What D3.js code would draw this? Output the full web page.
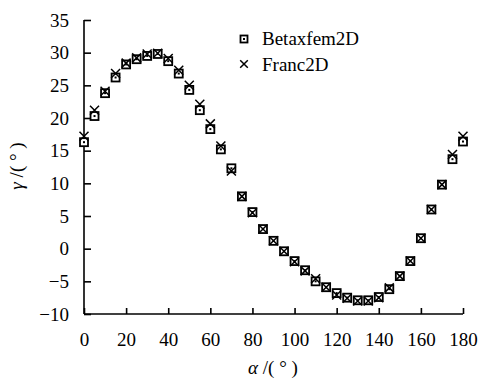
<!DOCTYPE html>
<html><head><meta charset="utf-8">
<script src="https://cdn.jsdelivr.net/npm/d3@7"></script>
<style>body{margin:0;background:#fff}svg{display:block}</style>
</head><body><div id="chart"></div>
<script>
const alphas = [0,5,10,15,20,25,30,35,40,45,50,55,60,65,70,75,80,85,90,95,100,105,110,115,120,125,130,135,140,145,150,155,160,165,170,175,180];
const betaxfem = [16.3,20.3,23.8,26.2,28.2,29.0,29.5,29.8,28.7,26.8,24.3,21.2,18.3,15.2,12.3,8.0,5.6,3.0,1.2,-0.4,-1.9,-3.3,-5.0,-5.9,-6.8,-7.5,-7.9,-7.9,-7.4,-6.2,-4.2,-1.9,1.6,6.0,9.8,13.7,16.4];
const franc2d = [17.2,21.2,24.1,26.8,28.4,29.2,29.8,29.9,29.1,27.3,25.0,22.1,19.1,15.7,11.9,8.0,5.5,3.0,1.2,-0.4,-2.0,-3.4,-4.6,-5.9,-7.1,-7.6,-8.0,-8.0,-7.5,-6.0,-4.2,-1.9,1.6,6.0,9.8,14.4,17.2];
const xTicks = [0,20,40,60,80,100,120,140,160,180];
const yTicks = [-10,-5,0,5,10,15,20,25,30,35];
const seriesNames = ["Betaxfem2D","Franc2D"];

const FONT = "Liberation Serif";
const FS = 19;
const W=479,H=380;
const svg=d3.select("#chart").append("svg").attr("width",W).attr("height",H)
  .attr("font-family",FONT).attr("font-size",FS);
const x=d3.scaleLinear().domain([0,180]).range([84,463]);
const y=d3.scaleLinear().domain([-10,35]).range([314,20]);

const gx=svg.append("g").attr("transform","translate(0,314)")
  .call(d3.axisBottom(x).tickValues(xTicks).tickSizeInner(-6).tickSizeOuter(0).tickPadding(19));
const gy=svg.append("g").attr("transform","translate(84,0)")
  .call(d3.axisLeft(y).tickValues(yTicks).tickSizeInner(-7).tickSizeOuter(0).tickPadding(15));
[gx,gy].forEach(g=>{
  g.attr("font-family",FONT).attr("font-size",FS);
  g.selectAll("path,line").attr("stroke","#000").attr("stroke-width",1.6);
  g.selectAll("text").attr("fill","#000");
});
gx.select(".domain").attr("d","M84,0H463");
gy.select(".domain").attr("d","M0,20V314");

function drawSquare(g,cx,cy,s){
  g.append("rect").attr("x",cx-s/2).attr("y",cy-s/2).attr("width",s).attr("height",s)
    .attr("fill","#fff").attr("stroke","#000").attr("stroke-width",1.8);
  g.append("rect").attr("x",cx-1).attr("y",cy-1).attr("width",2).attr("height",2).attr("fill","#000");
}
function drawCross(g,cx,cy,r){
  g.append("path").attr("d",`M${cx-r},${cy-r}L${cx+r},${cy+r}M${cx-r},${cy+r}L${cx+r},${cy-r}`)
    .attr("stroke","#000").attr("stroke-width",1.5).attr("fill","none");
}
const sq=svg.append("g");
alphas.forEach((a,i)=>drawSquare(sq,x(a),y(betaxfem[i]),8));
const cr=svg.append("g");
alphas.forEach((a,i)=>drawCross(cr,x(a),y(franc2d[i]),4.5));

// legend
const lg=svg.append("g");
drawSquare(lg,244,39,7);
drawCross(lg,244,64,3.8);
lg.append("text").attr("x",262).attr("y",45).text(seriesNames[0]);
lg.append("text").attr("x",262).attr("y",71).text(seriesNames[1]);

// axis titles
svg.append("text").attr("x",273).attr("y",374).attr("text-anchor","middle")
  .html('<tspan font-style="italic">α</tspan> /( ° )');
svg.append("text").attr("transform","translate(23,166) rotate(-90)").attr("text-anchor","middle")
  .html('<tspan font-style="italic">γ</tspan> /( ° )');
</script></body></html>
